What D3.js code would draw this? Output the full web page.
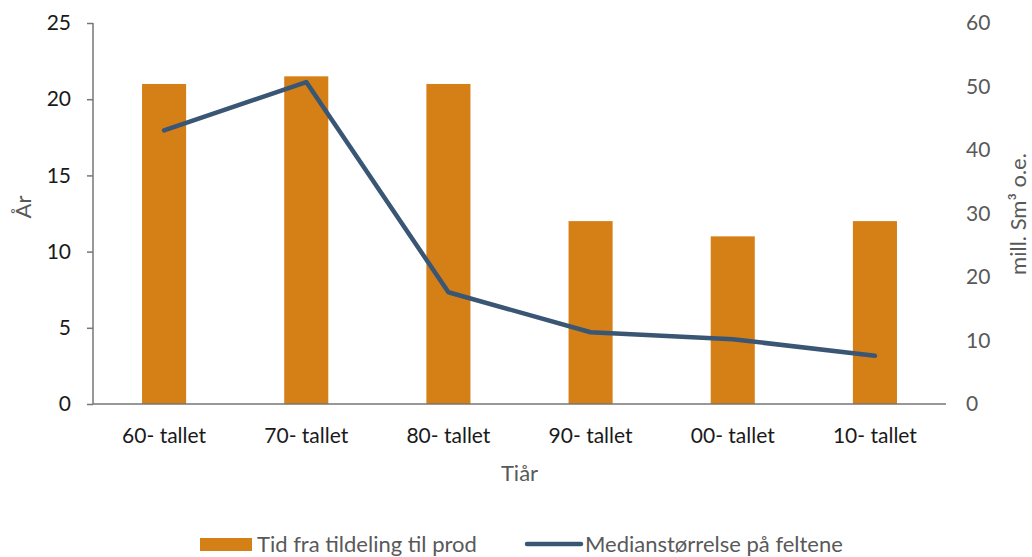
<!DOCTYPE html>
<html>
<head>
<meta charset="utf-8">
<script src="https://cdn.jsdelivr.net/npm/d3@7"></script>
<style>
	body { margin: 0; background: #fff; }
	svg text { font-family: Lato, "Open Sans", sans-serif; }
</style>
</head>
<body>
<svg id="chart" width="1032" height="557"></svg>
<script>
// decades on the x axis
const decades = ["60- tallet", "70- tallet", "80- tallet", "90- tallet", "00- tallet", "10- tallet"];
// years from award to production (left axis)
const yearsToProd = [21, 21.5, 21, 12, 11, 12];
// median field size, mill. Sm3 o.e. (right axis)
const medianSize = [43.1, 50.7, 17.6, 11.3, 10.2, 7.6];
const leftTicks = [0, 5, 10, 15, 20, 25];
const rightTicks = [0, 10, 20, 30, 40, 50, 60];

const barColor = "#d57f17";
const lineColor = "#3a5675";

const svg = d3.select("#chart");
const margin = { left: 93, right: 86, top: 23, bottom: 153 };
const width = 1032 - margin.left - margin.right;
const height = 557 - margin.top - margin.bottom;

const g = svg.append("g").attr("transform", `translate(${margin.left},${margin.top})`);

const x = d3.scaleBand().domain(decades).range([0, width]);
const yLeft = d3.scaleLinear().domain([0, 25]).range([height, 0]);
const yRight = d3.scaleLinear().domain([0, 60]).range([height, 0]);

const barW = x.bandwidth() * 0.31;

// bars
g.selectAll("rect.bar")
	.data(decades)
	.enter()
	.append("rect")
	.attr("class", "bar")
	.attr("x", d => x(d) + x.bandwidth() / 2 - barW / 2)
	.attr("y", (d, i) => yLeft(yearsToProd[i]))
	.attr("width", barW)
	.attr("height", (d, i) => height - yLeft(yearsToProd[i]))
	.attr("fill", barColor);

// line
const line = d3.line()
	.x((d, i) => x(decades[i]) + x.bandwidth() / 2)
	.y(d => yRight(d));

g.append("path")
	.datum(medianSize)
	.attr("d", line)
	.attr("fill", "none")
	.attr("stroke", lineColor)
	.attr("stroke-width", 4.5)
	.attr("stroke-linecap", "round")
	.attr("stroke-linejoin", "round");

// left axis
const leftAxis = g.append("g")
	.call(d3.axisLeft(yLeft).tickValues(leftTicks).tickSize(6).tickPadding(16));
leftAxis.select(".domain").attr("stroke", "#767676").attr("stroke-width", 1.5).attr("d", `M0,0V${height}`);
leftAxis.selectAll(".tick line").attr("stroke", "#767676").attr("stroke-width", 1.5);
leftAxis.selectAll(".tick text").attr("font-size", 21).attr("fill", "#1a1a1a");

// baseline
g.append("line")
	.attr("x1", 0).attr("x2", width)
	.attr("y1", height).attr("y2", height)
	.attr("stroke", "#767676").attr("stroke-width", 1.5);

// right axis (labels only)
const rightAxis = g.append("g")
	.attr("transform", `translate(${width},0)`)
	.call(d3.axisRight(yRight).tickValues(rightTicks).tickSize(0).tickPadding(20));
rightAxis.select(".domain").remove();
rightAxis.selectAll(".tick text").attr("font-size", 21).attr("fill", "#595959");

// x axis labels
const xAxis = g.append("g")
	.attr("transform", `translate(0,${height})`)
	.call(d3.axisBottom(x).tickSize(0).tickPadding(24));
xAxis.select(".domain").remove();
xAxis.selectAll(".tick text").attr("font-size", 21).attr("fill", "#1a1a1a");

// axis titles
svg.append("text")
	.attr("transform", "translate(31,207) rotate(-90)")
	.attr("text-anchor", "middle")
	.attr("font-size", 22)
	.attr("fill", "#595959")
	.text("År");

svg.append("text")
	.attr("x", margin.left + width / 2)
	.attr("y", 481)
	.attr("text-anchor", "middle")
	.attr("font-size", 22)
	.attr("fill", "#595959")
	.text("Tiår");

svg.append("text")
	.attr("transform", "translate(1026,214) rotate(-90)")
	.attr("text-anchor", "middle")
	.attr("font-size", 22)
	.attr("fill", "#595959")
	.text("mill. Sm³ o.e.");

// legend
const legend = svg.append("g");
legend.append("rect")
	.attr("x", 200).attr("y", 538).attr("width", 52).attr("height", 13)
	.attr("fill", barColor);
legend.append("text")
	.attr("x", 257).attr("y", 552)
	.attr("font-size", 22).attr("fill", "#595959")
	.text("Tid fra tildeling til prod");
legend.append("line")
	.attr("x1", 527).attr("x2", 581).attr("y1", 544).attr("y2", 544)
	.attr("stroke", lineColor).attr("stroke-width", 4.5).attr("stroke-linecap", "round");
legend.append("text")
	.attr("x", 585).attr("y", 552)
	.attr("font-size", 22).attr("fill", "#595959")
	.text("Medianstørrelse på feltene");
</script>
</body>
</html>
